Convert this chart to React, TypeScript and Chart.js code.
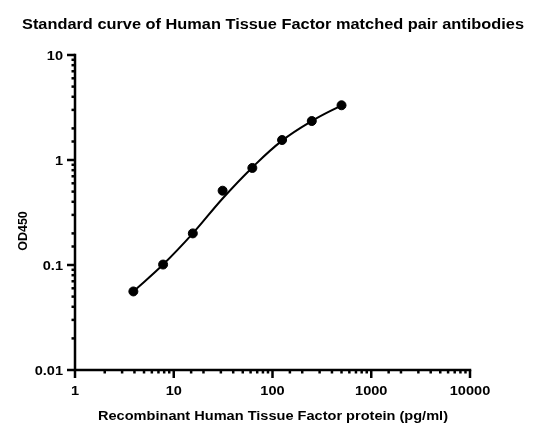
import React, { useEffect, useRef } from "react";
import { Chart, registerables } from "chart.js";

Chart.register(...registerables);

const concentrations = [3.9, 7.8, 15.6, 31.25, 62.5, 125, 250, 500];
const od450 = [0.056, 0.101, 0.2, 0.51, 0.84, 1.55, 2.35, 3.32];
const fitCurve = [0.056, 0.101, 0.2, 0.43, 0.85, 1.53, 2.35, 3.32];
const xTickLabels = [1, 10, 100, 1000, 10000];
const yTickLabels = [0.01, 0.1, 1, 10];

const titleText = "Standard curve of Human Tissue Factor matched pair antibodies";
const xTitle = "Recombinant Human Tissue Factor protein (pg/ml)";
const yTitle = "OD450";

const FONT = "Arial, 'Liberation Sans', Helvetica, sans-serif";

const isDecade = (v: number) => {
  const l = Math.log10(v);
  return Math.abs(l - Math.round(l)) < 1e-6;
};

// draw text stretched horizontally by sx, anchored by align
function stretchedText(ctx: any, text: string, x: number, y: number, sx: number, align: "left" | "center" | "right") {
  ctx.save();
  ctx.translate(x, y);
  ctx.scale(sx, 1);
  ctx.textAlign = align;
  ctx.fillText(text, 0, 0);
  ctx.restore();
}

const axesPlugin = {
  id: "customAxes",
  afterDraw(chart: any) {
    const { ctx, chartArea } = chart;
    const xs = chart.scales.x;
    const ys = chart.scales.y;
    const left = chartArea.left;
    const bottom = chartArea.bottom;
    ctx.save();
    ctx.strokeStyle = "#000";
    ctx.fillStyle = "#000";
    ctx.lineWidth = 2.5;
    ctx.lineCap = "butt";
    // axis lines
    ctx.beginPath();
    ctx.moveTo(left, ys.getPixelForValue(10) - 1.25);
    ctx.lineTo(left, bottom);
    ctx.lineTo(xs.getPixelForValue(10000) + 1.25, bottom);
    ctx.stroke();
    ys.ticks.forEach((t: any) => {
      const y = ys.getPixelForValue(t.value);
      const len = isDecade(t.value) ? 8 : 3.5;
      ctx.beginPath();
      ctx.moveTo(left, y);
      ctx.lineTo(left - len, y);
      ctx.stroke();
    });
    xs.ticks.forEach((t: any) => {
      const x = xs.getPixelForValue(t.value);
      const len = isDecade(t.value) ? 8 : 3.5;
      ctx.beginPath();
      ctx.moveTo(x, bottom);
      ctx.lineTo(x, bottom + len);
      ctx.stroke();
    });
    // tick labels
    ctx.font = `bold 13px ${FONT}`;
    ctx.textBaseline = "alphabetic";
    yTickLabels.forEach((v) => {
      stretchedText(ctx, String(v), left - 12, ys.getPixelForValue(v) + 4.5, 1.12, "right");
    });
    xTickLabels.forEach((v) => {
      stretchedText(ctx, String(v), xs.getPixelForValue(v), 394.5, 1.12, "center");
    });
    // axis titles
    ctx.font = `bold 12.5px ${FONT}`;
    const xw = ctx.measureText(xTitle).width;
    stretchedText(ctx, xTitle, 273, 420, 350 / xw, "center");
    ctx.save();
    ctx.translate(27, 231);
    ctx.rotate(-Math.PI / 2);
    ctx.font = `bold 12.5px ${FONT}`;
    ctx.textAlign = "center";
    ctx.fillText(yTitle, 0, 0);
    ctx.restore();
    // title
    ctx.font = `bold 15px ${FONT}`;
    const tw = ctx.measureText(titleText).width;
    stretchedText(ctx, titleText, 273, 29, 502 / tw, "center");
    ctx.restore();
  },
};

export default function App() {
  const ref = useRef<HTMLCanvasElement | null>(null);
  useEffect(() => {
    if (!ref.current) return;
    const chart = new Chart(ref.current, {
      type: "scatter",
      data: {
        datasets: [
          {
            label: "fit",
            data: concentrations.map((c, i) => ({ x: c, y: fitCurve[i] })),
            showLine: true,
            borderColor: "#000",
            borderWidth: 2,
            pointRadius: 0,
            tension: 0.4,
          } as any,
          {
            label: "OD450",
            data: concentrations.map((c, i) => ({ x: c, y: od450[i] })),
            showLine: false,
            backgroundColor: "#000",
            borderColor: "#000",
            pointRadius: 4.5,
            pointHoverRadius: 4.5,
          },
        ],
      },
      options: {
        animation: false,
        responsive: false,
        maintainAspectRatio: false,
        layout: { padding: { left: 0, right: 70, top: 55, bottom: 0 } },
        plugins: { legend: { display: false }, tooltip: { enabled: false }, title: { display: false } },
        scales: {
          x: {
            type: "logarithmic",
            min: 1,
            max: 10000,
            grid: { display: false, drawTicks: false },
            border: { display: false },
            ticks: { display: false },
            afterFit: (s: any) => { s.height = 67; },
          },
          y: {
            type: "logarithmic",
            min: 0.01,
            max: 10,
            grid: { display: false, drawTicks: false },
            border: { display: false },
            ticks: { display: false },
            afterFit: (s: any) => { s.width = 75; },
          },
        },
      },
      plugins: [axesPlugin],
    });
    return () => chart.destroy();
  }, []);
  return (
    <div style={{ position: "fixed", left: 0, top: 0, width: 540, height: 437, background: "#fff" }}>
      <canvas ref={ref} width={540} height={437} style={{ width: 540, height: 437 }} />
    </div>
  );
}
